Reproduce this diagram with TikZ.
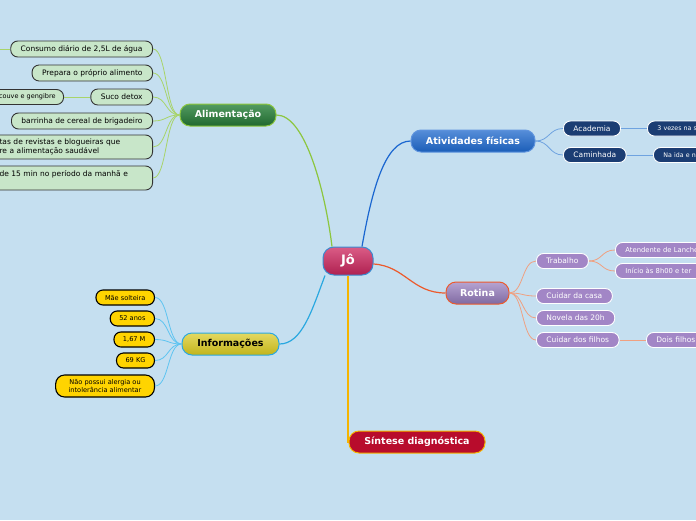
\documentclass[tikz,border=0pt]{standalone}
\usepackage{fontspec}
\setmainfont{DejaVu Sans}
\usepackage{tikz}
\definecolor{mapbg}{RGB}{197,223,240}
\definecolor{rootred}{RGB}{206,38,94}
\definecolor{rootedge}{RGB}{58,138,208}
\definecolor{alimgreen}{RGB}{40,130,58}
\definecolor{alimedge}{RGB}{140,198,62}
\definecolor{alimleaf}{RGB}{200,230,201}
\definecolor{alimlink}{RGB}{168,212,106}
\definecolor{ativblue}{RGB}{30,104,204}
\definecolor{ativedge}{RGB}{26,102,208}
\definecolor{ativleaf}{RGB}{27,61,115}
\definecolor{ativlink}{RGB}{111,163,224}
\definecolor{rotpurple}{RGB}{150,124,190}
\definecolor{rotedge}{RGB}{236,90,44}
\definecolor{rotleaf}{RGB}{162,134,198}
\definecolor{rotlink}{RGB}{240,160,128}
\definecolor{infoyellow}{RGB}{216,200,30}
\definecolor{infoedge}{RGB}{42,168,224}
\definecolor{infoleaf}{RGB}{255,212,0}
\definecolor{infolink}{RGB}{94,196,240}
\definecolor{sintred}{RGB}{184,12,44}
\definecolor{sintedge}{RGB}{245,180,0}

\begin{document}
\begin{tikzpicture}[x=1pt, y=-1pt,
  topic/.style={rounded corners=10pt, minimum height=22pt, inner sep=0pt, line width=1pt,
    font=\fontsize{9.5}{11}\selectfont\bfseries, text=white},
  leaf/.style={rounded corners=7pt, minimum height=15pt, inner ysep=1pt, inner xsep=10pt, line width=0.9pt,
    font=\fontsize{7.5}{8.5}\selectfont},
  greenleaf/.style={leaf, fill=alimleaf, draw=black!80, minimum height=16pt, inner xsep=10pt, font=\fontsize{7.5}{9}\selectfont},
  navyleaf/.style={leaf, fill=ativleaf, draw=white, text=white},
  purpleleaf/.style={leaf, fill=rotleaf, draw=white, text=white},
  yellowleaf/.style={leaf, fill=infoleaf, draw=black, line width=1.1pt, inner xsep=9pt, font=\fontsize{6.6}{8}\selectfont},
  link/.style={line width=0.8pt}]

\useasboundingbox (0,0) rectangle (696,520);
\fill[mapbg] (0,0) rectangle (696,520);

% central topic
\node[topic, minimum width=50pt, minimum height=28pt, rounded corners=11pt, draw=rootedge,
  top color=rootred!75!white, bottom color=rootred!85!black, font=\fontsize{13}{15}\selectfont\bfseries] (jo) at (348,261) {Jô};

% main topics
\node[topic, minimum width=96pt, draw=alimedge, top color=alimgreen!80!white, bottom color=alimgreen!80!black] (alim) at (228,115) {Alimentação};
\node[topic, minimum width=124pt, draw=ativedge!70!white, top color=ativblue!75!white, bottom color=ativblue!90!black] (ativ) at (473,141) {Atividades físicas};
\node[topic, minimum width=63pt, draw=rotedge, top color=rotpurple!70!white, bottom color=rotpurple!85!black] (rotina) at (477.5,293) {Rotina};
\node[topic, minimum width=97pt, draw=infoedge, top color=infoyellow!70!white, bottom color=infoyellow!90!black, text=black] (info) at (230.5,344) {Informações};
\node[topic, minimum width=136pt, draw=sintedge, fill=sintred] (sintese) at (417,442) {Síntese diagnóstica};

% Alimentacao
\node[greenleaf, anchor=east] (consumo) at (153,49) {Consumo diário de 2,5L de água};
\node[greenleaf, anchor=east] (prepara) at (153,73) {Prepara o próprio alimento};
\node[greenleaf, anchor=east] (suco) at (153,97) {Suco detox};
\node[greenleaf, anchor=east, minimum height=15pt, inner xsep=8pt, font=\fontsize{6.5}{7.5}\selectfont] (couve) at (64,97) {couve e gengibre};
\node[greenleaf, anchor=east] (barrinha) at (153,121) {barrinha de cereal de brigadeiro};
\node[greenleaf, anchor=east, text width=143pt, align=left, minimum height=24pt] (blog) at (153,147) {tas de revistas e blogueiras que\\re a alimentação saudável};
\node[greenleaf, anchor=east, text width=143pt, align=left, minimum height=24pt] (manha) at (153,178) {de 15 min no período da manhã e\\\mbox{}};
\coordinate (consumoout) at (-5,49);

% Atividades fisicas
\node[navyleaf, anchor=west] (academia) at (563,128.5) {Academia};
\node[navyleaf, anchor=west] (caminhada) at (563,155) {Caminhada};
\node[navyleaf, anchor=west, text width=60pt, align=left, font=\fontsize{6.3}{7.5}\selectfont] (vezes) at (647,128.5) {3 vezes na s};
\node[navyleaf, anchor=west, text width=60pt, align=left, font=\fontsize{6.3}{7.5}\selectfont] (ida) at (653,155) {Na ida e n};

% Rotina
\node[purpleleaf, anchor=west] (trabalho) at (536,261) {Trabalho};
\node[purpleleaf, anchor=west] (casa) at (536,296) {Cuidar da casa};
\node[purpleleaf, anchor=west] (novela) at (536,318) {Novela das 20h};
\node[purpleleaf, anchor=west] (filhos) at (536,340) {Cuidar dos filhos};
\node[purpleleaf, anchor=west, text width=120pt, align=left, font=\fontsize{6.8}{8}\selectfont] (lanche) at (615,250) {Atendente de Lanche};
\node[purpleleaf, anchor=west, text width=120pt, align=left, font=\fontsize{6.8}{8}\selectfont] (horario) at (615,271) {Início às 8h00 e ter};
\node[purpleleaf, anchor=west, text width=60pt, align=left] (dois) at (646,340) {Dois filhos};

% Informacoes
\node[yellowleaf, anchor=east] (mae) at (155,297.5) {Mãe solteira};
\node[yellowleaf, anchor=east] (idade) at (155,318.5) {52 anos};
\node[yellowleaf, anchor=east] (altura) at (155,339.5) {1,67 M};
\node[yellowleaf, anchor=east] (peso) at (155,360.5) {69 KG};
\node[yellowleaf, anchor=east, align=center, minimum height=22pt, inner xsep=13pt, rounded corners=9pt] (alergia) at (155,386) {Não possui alergia ou\\intolerância alimentar};

% main connectors
\draw[alimedge, line width=1.2pt] ([xshift=-16pt]jo.north) .. controls (325,190) and (305,115) .. (alim.east);
\draw[ativedge, line width=1.2pt] ([xshift=14pt]jo.north) .. controls (372,190) and (385,141) .. (ativ.west);
\draw[rotedge, line width=1.2pt] ([yshift=-3pt]jo.east) .. controls (405,266) and (412,293) .. (rotina.west);
\draw[infoedge, line width=1.2pt] ([xshift=-23pt]jo.south) .. controls (312,310) and (302,344) .. (info.east);
\draw[sintedge, line width=1.2pt] (jo.south) |- (sintese.west);

% leaf connectors
\draw[link, alimlink] (alim.west) .. controls +(-14,0) and +(14,0) .. (consumo.east);
\draw[link, alimlink] (alim.west) .. controls +(-14,0) and +(14,0) .. (prepara.east);
\draw[link, alimlink] (alim.west) .. controls +(-14,0) and +(14,0) .. (suco.east);
\draw[link, alimlink] (alim.west) .. controls +(-14,0) and +(14,0) .. (barrinha.east);
\draw[link, alimlink] (alim.west) .. controls +(-14,0) and +(14,0) .. (blog.east);
\draw[link, alimlink] (alim.west) .. controls +(-14,0) and +(14,0) .. (manha.east);
\draw[link, alimlink] (suco.west) -- (couve.east);
\draw[link, alimlink] (consumo.west) -- (consumoout);

\draw[link, ativlink] (ativ.east) .. controls +(14,0) and +(-14,0) .. (academia.west);
\draw[link, ativlink] (ativ.east) .. controls +(14,0) and +(-14,0) .. (caminhada.west);
\draw[link, ativlink] (academia.east) -- (vezes.west);
\draw[link, ativlink] (caminhada.east) -- (ida.west);

\draw[link, rotlink] (rotina.east) .. controls +(14,0) and +(-14,0) .. (trabalho.west);
\draw[link, rotlink] (rotina.east) .. controls +(14,0) and +(-14,0) .. (casa.west);
\draw[link, rotlink] (rotina.east) .. controls +(14,0) and +(-14,0) .. (novela.west);
\draw[link, rotlink] (rotina.east) .. controls +(14,0) and +(-14,0) .. (filhos.west);
\draw[link, rotlink] (trabalho.east) .. controls +(14,0) and +(-14,0) .. (lanche.west);
\draw[link, rotlink] (trabalho.east) .. controls +(14,0) and +(-14,0) .. (horario.west);
\draw[link, rotlink] (filhos.east) -- (dois.west);

\draw[link, infolink] (info.west) .. controls +(-14,0) and +(14,0) .. (mae.east);
\draw[link, infolink] (info.west) .. controls +(-14,0) and +(14,0) .. (idade.east);
\draw[link, infolink] (info.west) .. controls +(-14,0) and +(14,0) .. (altura.east);
\draw[link, infolink] (info.west) .. controls +(-14,0) and +(14,0) .. (peso.east);
\draw[link, infolink] (info.west) .. controls +(-14,0) and +(14,0) .. (alergia.east);

\end{tikzpicture}
\end{document}
